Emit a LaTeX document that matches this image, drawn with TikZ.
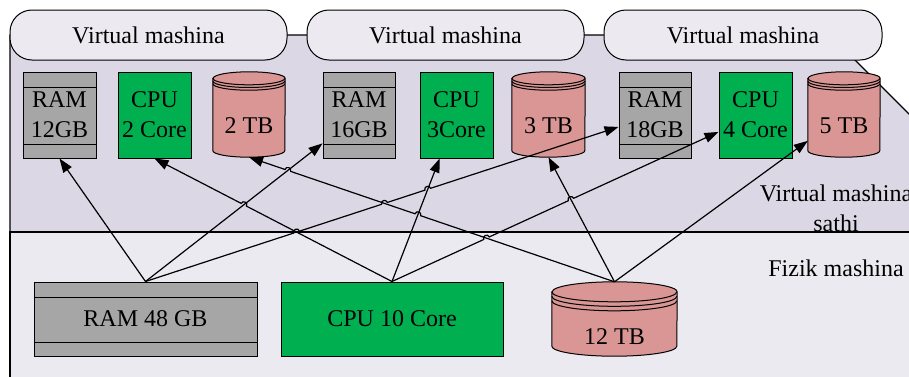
\documentclass[tikz,border=0pt]{standalone}
\usepackage{fontspec}
\setmainfont{Liberation Serif}
\usetikzlibrary{arrows.meta,calc,intersections}

\definecolor{ramgray}{HTML}{A6A6A6}
\definecolor{cpugreen}{HTML}{00B050}
\definecolor{diskpink}{HTML}{D99694}
\definecolor{vmzone}{HTML}{DCD7E5}
\definecolor{pmzone}{HTML}{ECEAF1}
\definecolor{tabfill}{HTML}{ECE9F1}

\tikzset{
  every node/.style={font=\fontsize{24}{30}\selectfont, inner sep=0pt, text=black},
  zone/.style={line width=1.3pt, draw=black},
  tab/.style={draw=black, line width=1pt, fill=tabfill, rounded corners=22pt,
    minimum width=277pt, minimum height=50pt},
  ramstyle/.style={draw=black, line width=1pt, fill=ramgray, align=center,
    path picture={
      \draw[line width=1pt] ([yshift=-15pt]path picture bounding box.north west) -- ([yshift=-15pt]path picture bounding box.north east);
      \draw[line width=1pt] ([yshift=14pt]path picture bounding box.south west) -- ([yshift=14pt]path picture bounding box.south east);}},
  cpustyle/.style={draw=black, line width=1pt, fill=cpugreen, align=center},
  diskbox/.style={draw=none, fill=none, shape=rectangle},
  arr/.style={line width=1.2pt, -{Triangle[length=14pt,width=10pt]}},
  hopl/.style n args={3}{insert path={-- ($(#1)!3pt!(#2)$) to[bend left=90,looseness=1.7] ($(#1)!3pt!(#3)$)}},
  hopr/.style n args={3}{insert path={-- ($(#1)!3pt!(#2)$) to[bend right=90,looseness=1.7] ($(#1)!3pt!(#3)$)}},
}

% name, cx, cy, w, h, ry, gap, text, dy
\newcommand\diskshape[9]{%
  \node[diskbox, minimum width=#4pt, minimum height=#5pt] (#1) at (#2,#3) {};
  \filldraw[fill=diskpink, draw=black, line width=1pt]
    let \p1=(#1.north west), \p2=(#1.south east) in
    ({\x1},{\y1-#6pt}) -- ({\x1},{\y2+#6pt})
    arc[start angle=180, end angle=360, x radius={#4*0.5pt}, y radius=#6pt]
    -- ({\x2},{\y1-#6pt})
    arc[start angle=0, end angle=180, x radius={#4*0.5pt}, y radius=#6pt] -- cycle;
  \draw[line width=1pt]
    let \p1=(#1.north west) in
    ({\x1},{\y1-#6pt}) arc[start angle=180, end angle=360, x radius={#4*0.5pt}, y radius=#6pt]
    ({\x1},{\y1-#6pt-#7pt}) arc[start angle=180, end angle=360, x radius={#4*0.5pt}, y radius=#6pt]
    ({\x1},{\y1-#6pt-2*#7pt}) arc[start angle=180, end angle=360, x radius={#4*0.5pt}, y radius=#6pt];
  \node (#1t) at ([yshift=#9pt]#1.center) {#8};
}

\begin{document}
\begin{tikzpicture}[x=1pt,y=1pt]
\useasboundingbox (0,0) rectangle (909,376);
\clip (0,0) rectangle (909,376);
\fill[white] (0,0) rectangle (909,376);

% zones
\filldraw[zone, fill=vmzone] (10,144) -- (10,341) -- (830,341) -- (1027,144);
\filldraw[zone, fill=pmzone] (10,-20) -- (10,144) -- (1000,144) -- (1000,-20);

% VM tabs
\node[tab] (vm1) at (148.5,341) {Virtual mashina};
\node[tab] (vm2) at (445.5,341) {Virtual mashina};
\node[tab, minimum width=278pt] (vm3) at (743,341) {Virtual mashina};

% zone labels
\node[align=center] (vmlabel) at (836,168) {Virtual mashina\\sathi};
\node[anchor=base] (pmlabel) at (836,99.3) {Fizik mashina};

% virtual resources
\node[ramstyle, minimum width=73pt, minimum height=86pt] (ram12) at (59.5,261) {RAM\\12GB};
\node[cpustyle, minimum width=73pt, minimum height=86pt] (cpu2) at (154.5,261) {CPU\\2 Core};
\diskshape{tb2}{249}{261.5}{72}{85}{6.5}{2.7}{2 TB}{-11}
\node[ramstyle, minimum width=72pt, minimum height=86pt] (ram16) at (359,261) {RAM\\16GB};
\node[cpustyle, minimum width=73pt, minimum height=86pt] (cpu3) at (456.5,261) {CPU\\3Core};
\diskshape{tb3}{548.5}{261.5}{73}{85}{6.5}{2.7}{3 TB}{-11}
\node[ramstyle, minimum width=72pt, minimum height=86pt] (ram18) at (655,261) {RAM\\18GB};
\node[cpustyle, minimum width=73pt, minimum height=86pt] (cpu4) at (755.5,261) {CPU\\4 Core};
\diskshape{tb5}{844}{261.5}{72}{85}{6.5}{2.7}{5 TB}{-11}

% physical resources
\node[ramstyle, minimum width=223pt, minimum height=74pt] (ram48) at (145.5,57) {RAM 48 GB};
\node[cpustyle, minimum width=222pt, minimum height=74pt] (cpu10) at (392,57) {CPU 10 Core};
\diskshape{tb12}{614.5}{57}{125}{74}{10}{4.5}{12 TB}{-18}

% crossing points
\path[name path=p2] (ram48.north) -- (ram16);
\path[name path=p3] (ram48.north) -- (ram18);
\path[name path=p4] (cpu10.north) -- (cpu2.south);
\path[name path=p5] (cpu10.north) -- (cpu3);
\path[name path=p6] (cpu10.north) -- (cpu4);
\path[name path=p7] (tb12.north) -- (tb2.south);
\path[name path=p8] (tb12.north) -- (tb3.south);
\path[name intersections={of=p2 and p4, by=X24}];
\path[name intersections={of=p2 and p7, by=X27}];
\path[name intersections={of=p3 and p4, by=X34}];
\path[name intersections={of=p3 and p7, by=X37}];
\path[name intersections={of=p3 and p5, by=X35}];
\path[name intersections={of=p5 and p7, by=X57}];
\path[name intersections={of=p6 and p7, by=X67}];
\path[name intersections={of=p6 and p8, by=X68}];

% connectors
\draw[arr] (ram48.north) -- (ram12.south);
\draw[arr] (ram48.north) -- (ram16);
\draw[arr] (ram48.north) [hopl={X34}{ram48.north}{ram18}] [hopl={X37}{ram48.north}{ram18}] [hopl={X35}{ram48.north}{ram18}] -- (ram18);
\draw[arr] (cpu10.north) [hopr={X24}{cpu10.north}{cpu2.south}] -- (cpu2.south);
\draw[arr] (cpu10.north) -- (cpu3);
\draw[arr] (cpu10.north) [hopl={X67}{cpu10.north}{cpu4}] [hopl={X68}{cpu10.north}{cpu4}] -- (cpu4);
\draw[arr] (tb12.north) [hopr={X57}{tb12.north}{tb2.south}] [hopr={X27}{tb12.north}{tb2.south}] -- (tb2.south);
\draw[arr] (tb12.north) -- (tb3.south);
\draw[arr] (tb12.north) -- (tb5);
\end{tikzpicture}
\end{document}
